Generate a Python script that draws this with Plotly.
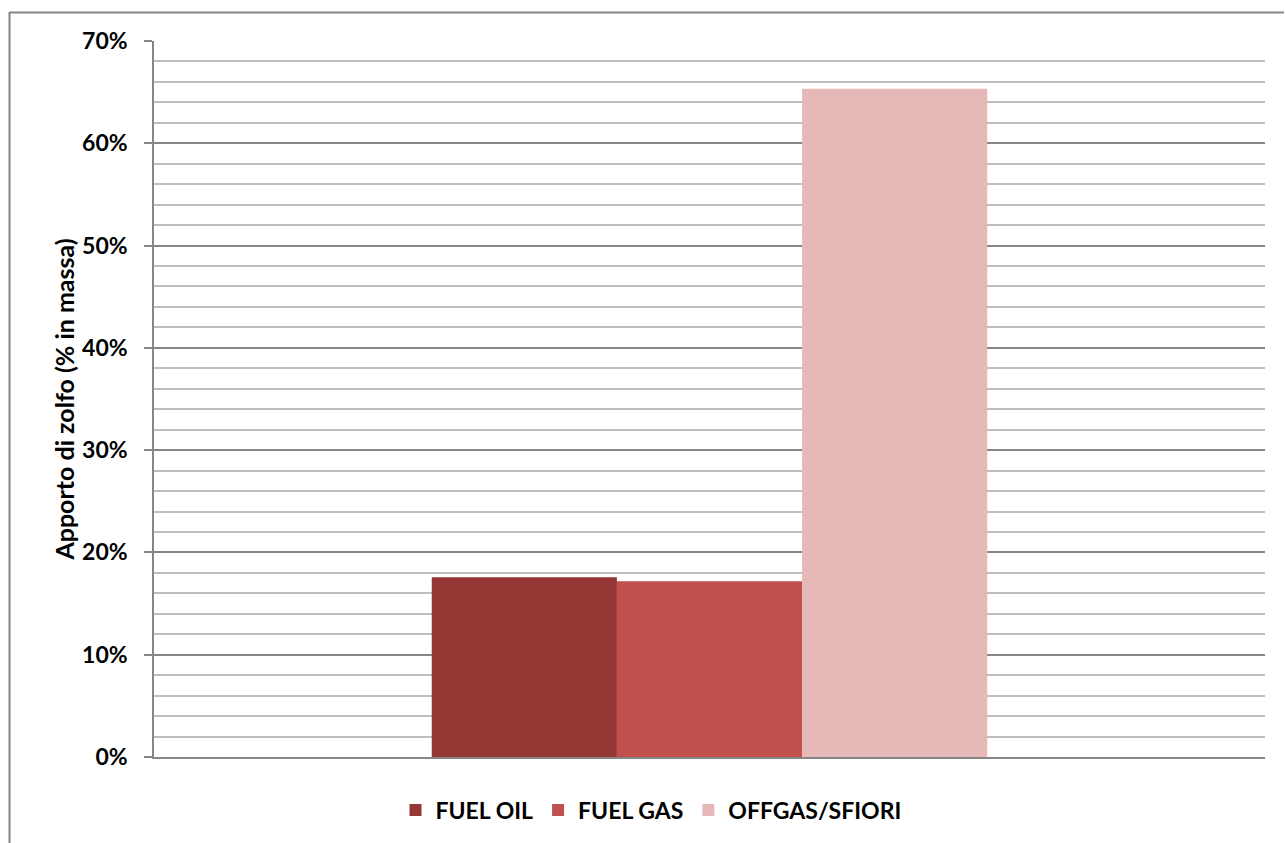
import plotly.graph_objects as go

categories = [""]
series_names = ["FUEL OIL", "FUEL GAS", "OFFGAS/SFIORI"]
series_values = [[0.1758], [0.1719], [0.6533]]
series_colors = ["#953735", "#C0504D", "#E6B9B8"]
y_title = "Apporto di zolfo (% in massa)"

FONT = "Lato"

fig = go.Figure()
for name, vals, col in zip(series_names, series_values, series_colors):
    fig.add_trace(go.Bar(x=categories, y=vals, name=name, marker=dict(color=col, line=dict(width=0))))

W, H = 1285, 843
L, R, T, B = 154, 20, 41, 86
pw, ph = W - L - R, H - T - B

def px_x(x):
    return (x - L) / pw

def px_y(y):
    return (H - B - y) / ph

border = "#868686"
fig.update_layout(
    width=W, height=H,
    margin=dict(l=L, r=R, t=T, b=B),
    paper_bgcolor="white", plot_bgcolor="white",
    barmode="group", bargap=0.5, bargroupgap=0,
    font=dict(family=FONT, size=23, color="black", weight="bold"),
    showlegend=True,
    legend=dict(orientation="h", x=px_x(651), xanchor="center", y=px_y(810), yanchor="middle",
                font=dict(family=FONT, size=23, weight="bold"), itemwidth=30, traceorder="normal"),
    xaxis=dict(showticklabels=False, showgrid=False, zeroline=False, showline=True,
               linecolor=border, linewidth=1.5, ticks=""),
    yaxis=dict(range=[0, 0.7], dtick=0.1, tickformat=".0%", showline=True, linecolor=border,
               linewidth=1.5, ticks="outside", ticklen=8, tickcolor=border, tickwidth=1.5,
               showgrid=True, gridcolor=border, gridwidth=1.5, zeroline=False,
               ticklabelstandoff=12, tickfont=dict(family=FONT, size=23, weight="bold"),
               minor=dict(dtick=0.02, showgrid=True, gridcolor="#BEBEBE", gridwidth=1.5, ticks=""),
               title=dict(text=y_title, font=dict(family=FONT, size=25, weight="bold"), standoff=0)),
    shapes=[
        dict(type="line", xref="paper", yref="paper", x0=px_x(9.5), x1=px_x(1284),
             y0=px_y(12.5), y1=px_y(12.5), line=dict(color=border, width=2), layer="above"),
        dict(type="line", xref="paper", yref="paper", x0=px_x(9.5), x1=px_x(9.5),
             y0=px_y(12), y1=px_y(843), line=dict(color=border, width=2), layer="above"),
    ],
)

fig.write_html("out.html", config={"displayModeBar": False})
